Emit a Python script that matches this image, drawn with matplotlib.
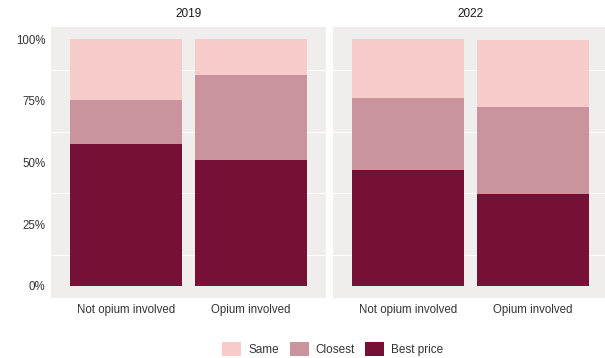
import matplotlib
matplotlib.use("Agg")
import matplotlib.pyplot as plt
from matplotlib.patches import Patch

plt.rcParams['font.family'] = ['Liberation Sans', 'DejaVu Sans']

years = ["2019", "2022"]
categories = ["Not opium involved", "Opium involved"]
series = ["Best price", "Closest", "Same"]
colors = {"Best price": "#771037", "Closest": "#C9949E", "Same": "#F8CBCB"}
values = {
    "2019": {"Best price": [0.576, 0.511], "Closest": [0.178, 0.344], "Same": [0.246, 0.145]},
    "2022": {"Best price": [0.471, 0.374], "Closest": [0.291, 0.351], "Same": [0.238, 0.271]},
}
yticks = [0, 0.25, 0.5, 0.75, 1.0]
yticklabels = ["0%", "25%", "50%", "75%", "100%"]

W, H = 605, 358
fig = plt.figure(figsize=(W/100, H/100), dpi=100)
panels = [(51, 326), (333, 608)]
top, bottom = 27, 298
bg = "#F0EEEC"
txt = "#333333"

for i, (yr, (x0, x1)) in enumerate(zip(years, panels)):
    ax = fig.add_axes([x0/W, 1-bottom/H, (x1-x0)/W, (bottom-top)/H])
    ax.set_facecolor(bg)
    for s in ax.spines.values():
        s.set_visible(False)
    for g in [0.125, 0.375, 0.625, 0.875]:
        ax.axhline(g, color="white", lw=0.8, zorder=0.5)
    xs = list(range(1, len(categories)+1))
    base = [0]*len(categories)
    for s in series:
        v = values[yr][s]
        ax.bar(xs, v, bottom=base, width=0.9, color=colors[s], zorder=2, linewidth=0)
        base = [b+vv for b, vv in zip(base, v)]
    ax.set_xlim(0.4, 2.6)
    ax.set_ylim(-0.05, 1.05)
    ax.set_xticks(xs)
    ax.set_xticklabels(categories, fontsize=8.3, color=txt)
    ax.set_yticks(yticks)
    if i == 0:
        ax.set_yticklabels(yticklabels, fontsize=8.3, color=txt)
    else:
        ax.set_yticklabels([])
    ax.tick_params(length=0, pad=4)
    ax.text(0.5, 1.025, yr, transform=ax.transAxes, ha="center", va="bottom", fontsize=8.5, color="#1a1a1a")

handles = [Patch(facecolor=colors[s], edgecolor="none") for s in ["Same", "Closest", "Best price"]]
fig.legend(handles, ["Same", "Closest", "Best price"], loc="center", bbox_to_anchor=(333/W, 1-349/H),
           ncol=3, frameon=False, fontsize=8.5, handlelength=1.6, handleheight=1.4,
           columnspacing=0.9, handletextpad=0.6, labelcolor=txt)

fig.savefig("out.png", dpi=100)
